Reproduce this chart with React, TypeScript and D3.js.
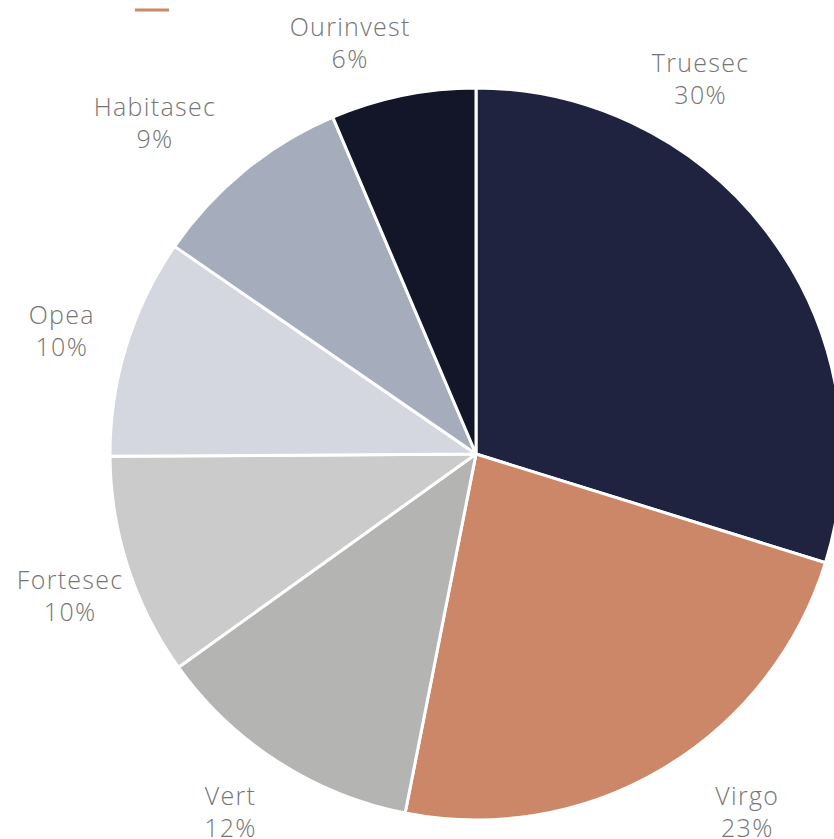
import React from "react";
import * as d3 from "d3";

const categories = ["Truesec", "Virgo", "Vert", "Fortesec", "Opea", "Habitasec", "Ourinvest"];
const values = [29.8, 23.3, 12.0, 9.8, 9.7, 9.0, 6.4];
const colors = ["#1F2340", "#CC8768", "#B4B4B2", "#CBCBCB", "#D4D7DF", "#A5ADBD", "#121628"];
// label placement tweaks (degrees of rotation, extra radius)
const labelAngleShift = [-22.7, -6.4, 1.7, -1.3, -0.6, -4.9, -5.5];
const labelRadiusShift = [0, 12, -3, -7, -5, 24, -7];

const W = 834;
const H = 839;
const cx = 476;
const cy = 454;
const R = 366;
const labelR = 437;

export default function App() {
  const data = categories.map((c, i) => ({ name: c, value: values[i], color: colors[i], i }));
  const pie = d3
    .pie<any>()
    .sort(null)
    .value((d: any) => d.value)
    .startAngle(0)
    .endAngle(2 * Math.PI);
  const arcs = pie(data);
  const arc = d3.arc<any>().innerRadius(0).outerRadius(R);
  const total = d3.sum(values);

  return (
    <svg
      width={W}
      height={H}
      style={{ position: "absolute", left: 0, top: 0, background: "#fff" }}
      fontFamily="'Open Sans', 'Noto Sans', sans-serif"
    >
      <line x1={135} x2={169} y1={10} y2={10} stroke="#CC8768" strokeWidth={3} />
      <g transform={`translate(${cx},${cy})`}>
        {arcs.map((a: any, i: number) => (
          <path key={i} d={arc(a) as string} fill={a.data.color} stroke="#fff" strokeWidth={3} strokeLinejoin="round" />
        ))}
        {arcs.map((a: any, i: number) => {
          const mid = (a.startAngle + a.endAngle) / 2 + (labelAngleShift[i] * Math.PI) / 180;
          const r = labelR + labelRadiusShift[i];
          const x = r * Math.sin(mid);
          const y = -r * Math.cos(mid);
          const pct = Math.round((a.data.value / total) * 100);
          return (
            <text
              key={"l" + i}
              x={x}
              y={y}
              textAnchor="middle"
              fill="#767676"
              fontSize={25}
              fontWeight={300}
              letterSpacing={1.3}
            >
              <tspan x={x} dy="-0.28em">{a.data.name}</tspan>
              <tspan x={x} dy="1.28em">{pct}%</tspan>
            </text>
          );
        })}
      </g>
    </svg>
  );
}
